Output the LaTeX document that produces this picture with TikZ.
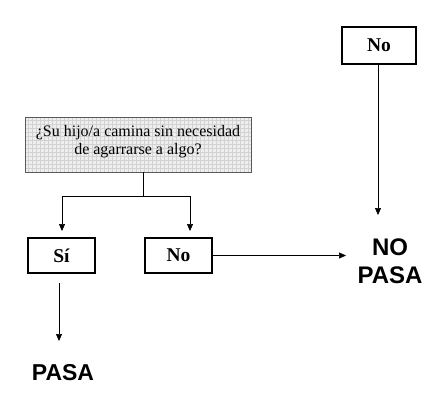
\documentclass[tikz,border=0pt]{standalone}
\usepackage{fontspec}
\setmainfont{Liberation Serif}
\setsansfont{Liberation Sans}
\usetikzlibrary{arrows.meta}
\tikzset{
  ansbox/.style={draw=black, line width=1.8pt, minimum width=67pt, minimum height=35pt, inner sep=0pt, font=\fontsize{19.5}{21}\selectfont\bfseries},
  resulttxt/.style={font=\fontsize{24}{28}\selectfont\sffamily\bfseries, align=center, inner sep=0pt},
  arr/.style={-{Triangle[length=7pt,width=6pt]}, line width=0.6pt},
  ln/.style={line width=0.6pt},
}
\begin{document}
\begin{tikzpicture}[x=1pt,y=-1pt]
\useasboundingbox (0,0) rectangle (444,406);
% question box with grid
\fill[gray!13] (25,117) rectangle (251,172);
\begin{scope}
\clip (25,117) rectangle (251,172);
\draw[gray!35, line width=0.4pt, step=4pt] (25,117) grid (252,173);
\end{scope}
\draw[gray!70!black, line width=0.8pt] (25,117) rectangle (251,172);
\node[align=center, font=\fontsize{16}{18}\selectfont, inner sep=0pt] (q) at (138,142) {¿Su hijo/a camina sin necesidad\\de agarrarse a algo?};
\coordinate (qb) at (143,172);
\coordinate (split) at (143,196);
\coordinate (sl) at (62,196);
\coordinate (sr) at (190,196);
% answer boxes
\node[ansbox] (si) at (61.5,255.5) {Sí};
\node[ansbox] (no) at (178.5,255.5) {No};
\node[ansbox, minimum width=74pt, minimum height=37pt] (notop) at (379,45.5) {No};
% results
\node[resulttxt] (nopasa) at (390,261) {NO\\PASA};
\node[resulttxt, font=\fontsize{23}{27}\selectfont\sffamily\bfseries] (pasa) at (63,373) {PASA};
% connectors
\draw[ln] (qb) -- (split);
\draw[ln] (sl) -- (sr);
\draw[arr] (sl) -- (62,231);
\draw[arr] (sr) -- (190,231);
\draw[arr] (notop.south -| 378,0) -- (378,215);
\draw[arr] (no.east) -- (346,255.5);
\draw[arr] (59,283) -- (59,341);
\end{tikzpicture}
\end{document}
